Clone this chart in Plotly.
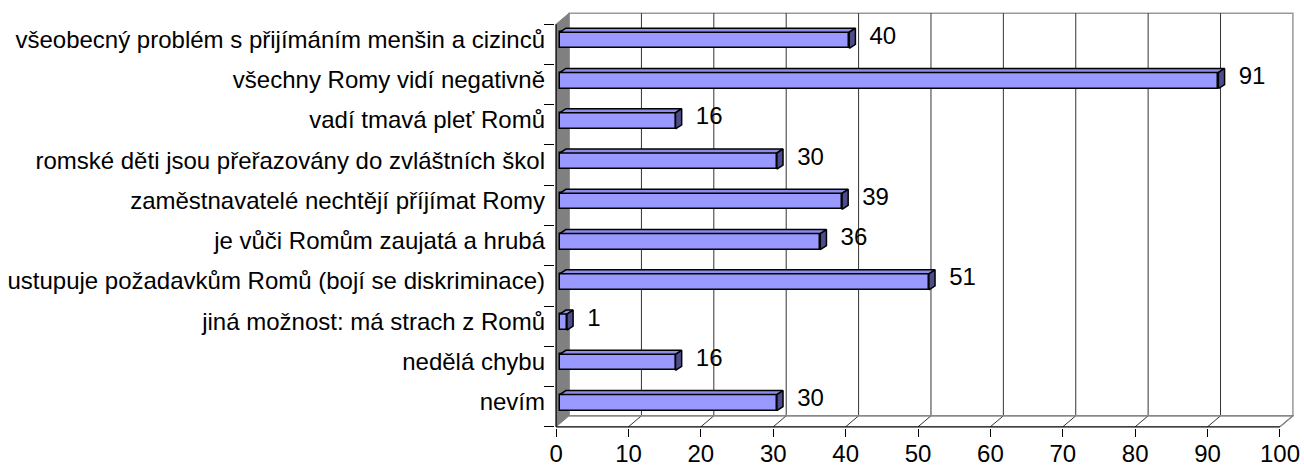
import plotly.graph_objects as go

# ---- data (top to bottom as shown) ----
categories = [
    "všeobecný problém s přijímáním menšin a cizinců",
    "všechny Romy vidí negativně",
    "vadí tmavá pleť Romů",
    "romské děti jsou přeřazovány do zvláštních škol",
    "zaměstnavatelé nechtějí příjímat Romy",
    "je vůči Romům zaujatá a hrubá",
    "ustupuje požadavkům Romů (bojí se diskriminace)",
    "jiná možnost: má strach z Romů",
    "nedělá chybu",
    "nevím",
]
values = [40, 91, 16, 30, 39, 36, 51, 1, 16, 30]
x_ticks = list(range(0, 101, 10))

# bottom-up order for numeric y positions
cats = categories[::-1]
vals = values[::-1]
n = len(cats)
pos = list(range(n))

# 3D geometry (in data units)
WX, WY = 1.79, 0.273      # wall depth offset
SX = 0.5                  # bars sit slightly behind the front plane
BX, BY = 0.85, 0.10       # bar depth offset
BH = 0.40                 # bar front-face height
BC = 0.10                 # bar centre shift (toward back)
XMAX = x_ticks[-1]
Y0, Y1 = -0.5, n - 0.5

FONT = "Liberation Sans, Arial, sans-serif"
FS = 24

fig = go.Figure()

# front faces
fig.add_trace(go.Bar(
    y=[p + BC for p in pos], x=vals, base=SX, orientation="h", width=BH,
    marker=dict(color="#9999FF", line=dict(color="black", width=1.5)),
    hoverinfo="skip", showlegend=False,
))

# top faces
tx, ty = [], []
for p, v in zip(pos, vals):
    yt = p + BC + BH / 2
    tx += [SX, SX + v, SX + v + BX, SX + BX, SX, None]
    ty += [yt, yt, yt + BY, yt + BY, yt, None]
fig.add_trace(go.Scatter(x=tx, y=ty, mode="lines", fill="toself",
                         fillcolor="#8C8CEB", line=dict(color="black", width=1.5),
                         hoverinfo="skip", showlegend=False))

# end faces
ex, ey = [], []
for p, v in zip(pos, vals):
    yb = p + BC - BH / 2
    yt = p + BC + BH / 2
    xe = SX + v
    ex += [xe, xe, xe + BX, xe + BX, xe, None]
    ey += [yb, yt, yt + BY, yb + BY, yb, None]
fig.add_trace(go.Scatter(x=ex, y=ey, mode="lines", fill="toself",
                         fillcolor="#4D4D8C", line=dict(color="black", width=1.5),
                         hoverinfo="skip", showlegend=False))

# value labels
fig.add_trace(go.Scatter(
    x=[v + 3.3 for v in vals], y=[p + 0.16 for p in pos], mode="text",
    text=[str(v) for v in vals], textposition="middle right",
    textfont=dict(family=FONT, size=FS, color="black"),
    hoverinfo="skip", showlegend=False,
))

shapes = []
# back wall
shapes.append(dict(type="rect", xref="x", yref="y", x0=WX, x1=XMAX + WX,
                   y0=Y0 + WY, y1=Y1 + WY, fillcolor="white",
                   line=dict(color="#999999", width=1.5), layer="below"))
# gridlines on back wall + floor diagonals
for t in x_ticks[1:-1]:
    shapes.append(dict(type="line", xref="x", yref="y", x0=t + WX, x1=t + WX,
                       y0=Y0 + WY, y1=Y1 + WY, line=dict(color="#333333", width=1),
                       layer="below"))
for t in x_ticks[1:]:
    shapes.append(dict(type="line", xref="x", yref="y", x0=t, x1=t + WX,
                       y0=Y0, y1=Y0 + WY, line=dict(color="#333333", width=1),
                       layer="below"))
# floor outline
shapes.append(dict(type="path", xref="x", yref="y",
                   path=f"M {XMAX},{Y0} L {XMAX + WX},{Y0 + WY} L {WX},{Y0 + WY}",
                   line=dict(color="#888888", width=1.5), layer="below"))
# side wall
shapes.append(dict(type="path", xref="x", yref="y",
                   path=f"M 0,{Y0} L 0,{Y1} L {WX},{Y1 + WY} L {WX},{Y0 + WY} Z",
                   fillcolor="#808080", line=dict(color="#808080", width=1), layer="below"))
# front axes lines
shapes.append(dict(type="line", xref="x", yref="y", x0=0, x1=XMAX, y0=Y0, y1=Y0,
                   line=dict(color="black", width=1.2), layer="above"))
shapes.append(dict(type="line", xref="x", yref="y", x0=0, x1=0, y0=Y0, y1=Y1,
                   line=dict(color="black", width=1.2), layer="above"))

fig.update_layout(
    width=1304, height=466,
    margin=dict(l=555, r=10, t=12, b=38, pad=0, autoexpand=False),
    paper_bgcolor="white", plot_bgcolor="white",
    shapes=shapes,
    showlegend=False,
    bargap=0,
)
fig.update_xaxes(
    automargin=False,
    range=[-0.15, XMAX + WX + 0.15], tickvals=x_ticks, ticktext=[str(t) for t in x_ticks],
    ticks="outside", ticklen=8, tickcolor="black", tickwidth=1,
    ticklabelstandoff=-4,
    showgrid=False, zeroline=False, showline=False,
    tickfont=dict(family=FONT, size=FS, color="black"),
    fixedrange=True,
)
fig.update_yaxes(
    automargin=False,
    range=[Y0 - 0.03, Y1 + WY + 0.03],
    tickvals=[p + 0.12 for p in pos], ticktext=cats,
    ticks="", ticklabelstandoff=9,
    minor=dict(tickvals=[y - 0.5 for y in range(n + 1)], ticks="outside",
               ticklen=10, tickcolor="black", tickwidth=1, showgrid=False),
    showgrid=False, zeroline=False, showline=False,
    tickfont=dict(family=FONT, size=FS, color="black"),
    fixedrange=True,
)

fig.write_html(
    "out.html",
    config={"displayModeBar": False},
    post_script="document.body.style.margin='0';document.body.style.overflow='hidden';",
)
